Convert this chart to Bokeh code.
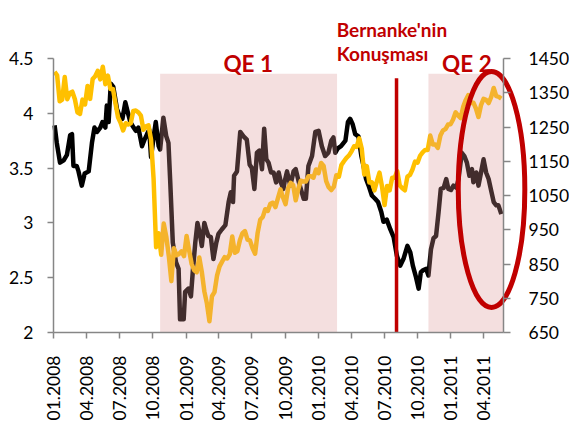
import numpy as np
import pandas as pd
from bokeh.plotting import figure
from bokeh.models import (Range1d, LinearAxis, FixedTicker, DatetimeTickFormatter, Label)
from bokeh.embed import file_html
from bokeh.resources import INLINE

# ---------------- data ----------------
# US 10y yield (left axis, %)
yield_dates = [
    "2008-01-04", "2008-01-10", "2008-01-19", "2008-01-29", "2008-02-07", "2008-02-16",
    "2008-02-21", "2008-02-25", "2008-03-05", "2008-03-10", "2008-03-19", "2008-03-27",
    "2008-04-07", "2008-04-16", "2008-04-23", "2008-04-30", "2008-05-09", "2008-05-15",
    "2008-05-23", "2008-05-27", "2008-06-01", "2008-06-07", "2008-06-14", "2008-06-24",
    "2008-07-03", "2008-07-09", "2008-07-17", "2008-07-23", "2008-07-31", "2008-08-09",
    "2008-08-15", "2008-08-22", "2008-09-01", "2008-09-08", "2008-09-15", "2008-09-21",
    "2008-09-26", "2008-10-03", "2008-10-09", "2008-10-17", "2008-10-21", "2008-10-30",
    "2008-11-07", "2008-11-13", "2008-11-18", "2008-11-25", "2008-12-04", "2008-12-11",
    "2008-12-15", "2008-12-25", "2008-12-29", "2009-01-07", "2009-01-14", "2009-01-19",
    "2009-01-26", "2009-02-01", "2009-02-07", "2009-02-13", "2009-02-20", "2009-02-25",
    "2009-03-03", "2009-03-10", "2009-03-17", "2009-03-25", "2009-03-31", "2009-04-09",
    "2009-04-19", "2009-04-28", "2009-05-04", "2009-05-10", "2009-05-13", "2009-05-21",
    "2009-05-30", "2009-06-08", "2009-06-17", "2009-06-25", "2009-07-01", "2009-07-08",
    "2009-07-15", "2009-07-22", "2009-07-29", "2009-08-04", "2009-08-10", "2009-08-16",
    "2009-08-23", "2009-08-30", "2009-09-06", "2009-09-13", "2009-09-19", "2009-09-26",
    "2009-09-29", "2009-10-06", "2009-10-15", "2009-10-24", "2009-10-30", "2009-11-07",
    "2009-11-21", "2009-11-27", "2009-12-04", "2009-12-14", "2009-12-23", "2010-01-01",
    "2010-01-10", "2010-01-19", "2010-01-28", "2010-02-05", "2010-02-11", "2010-02-16",
    "2010-02-23", "2010-03-04", "2010-03-16", "2010-03-23", "2010-03-29", "2010-04-05",
    "2010-04-12", "2010-04-21", "2010-04-29", "2010-05-05", "2010-05-12", "2010-05-19",
    "2010-05-28", "2010-06-06", "2010-06-14", "2010-06-23", "2010-06-29", "2010-07-08",
    "2010-07-18", "2010-07-27", "2010-08-05", "2010-08-14", "2010-08-23", "2010-09-03",
    "2010-09-11", "2010-09-18", "2010-09-27", "2010-10-04", "2010-10-10", "2010-10-17",
    "2010-10-25", "2010-10-31", "2010-11-07", "2010-11-14", "2010-11-21", "2010-11-28",
    "2010-12-04", "2010-12-12", "2010-12-19", "2010-12-25", "2011-01-01", "2011-01-08",
    "2011-01-16", "2011-01-22", "2011-01-31", "2011-02-07", "2011-02-14", "2011-02-21",
    "2011-02-28", "2011-03-04", "2011-03-12", "2011-03-18", "2011-03-25", "2011-04-01",
    "2011-04-08", "2011-04-15", "2011-04-21", "2011-04-29", "2011-05-06", "2011-05-12",
    "2011-05-20",
]
yield_values = [
    3.89, 3.73, 3.55, 3.57, 3.62, 3.80,
    3.81, 3.52, 3.52, 3.47, 3.34, 3.45,
    3.47, 3.73, 3.87, 3.83, 3.87, 3.92,
    3.87, 4.07, 3.92, 4.27, 4.24, 4.04,
    3.96, 3.95, 4.10, 4.02, 3.92, 3.87,
    3.84, 3.87, 3.70, 3.76, 3.81, 3.85,
    3.60, 3.78, 3.92, 3.70, 3.67, 3.96,
    3.79, 3.73, 3.37, 2.82, 2.64, 2.58,
    2.12, 2.12, 2.37, 2.40, 2.33, 2.55,
    2.82, 3.00, 2.91, 2.79, 3.00, 2.94,
    2.88, 2.87, 2.67, 2.82, 2.90, 2.94,
    2.98, 3.19, 3.28, 3.19, 3.43, 3.47,
    3.83, 3.79, 3.76, 3.53, 3.50, 3.31,
    3.64, 3.66, 3.49, 3.86, 3.58, 3.55,
    3.46, 3.46, 3.37, 3.46, 3.37, 3.31,
    3.37, 3.47, 3.34, 3.47, 3.49, 3.38,
    3.22, 3.22, 3.52, 3.61, 3.83, 3.84,
    3.70, 3.61, 3.64, 3.75, 3.78, 3.64,
    3.68, 3.70, 3.75, 3.92, 3.95, 3.90,
    3.81, 3.79, 3.61, 3.52, 3.40, 3.34,
    3.25, 3.22, 3.19, 3.10, 3.01, 3.03,
    2.94, 2.87, 2.70, 2.61, 2.67, 2.79,
    2.73, 2.61, 2.50, 2.40, 2.55, 2.57,
    2.58, 2.52, 2.76, 2.86, 2.88, 3.10,
    3.31, 3.32, 3.40, 3.31, 3.30, 3.34,
    3.32, 3.40, 3.64, 3.61, 3.55, 3.43,
    3.49, 3.37, 3.46, 3.34, 3.46, 3.58,
    3.46, 3.40, 3.31, 3.19, 3.16, 3.16,
    3.08,
]

# S&P 500 weekly close (right axis), weekly Fridays from 2008-01-04
spx_start = "2008-01-04"
spx_values = [
    # 2008
    1411, 1401, 1325, 1330, 1396, 1331, 1349, 1353, 1331, 1293, 1288, 1330, 1316,
    1370, 1332, 1390, 1398, 1414, 1389, 1426, 1375, 1400, 1361, 1361, 1318, 1278,
    1262, 1240, 1261, 1257, 1261, 1297, 1298, 1293, 1283, 1242, 1252, 1255, 1213,
    1099, 899, 940, 877, 968, 930, 873, 800, 896, 876, 879, 887, 873,
    # 2009
    932, 890, 850, 832, 826, 869, 827, 770, 735, 683, 756, 768, 816,
    843, 857, 870, 866, 878, 930, 883, 887, 919, 940, 946, 921, 918,
    896, 880, 941, 979, 987, 1010, 1005, 1026, 1029, 1016, 1042, 1068, 1044,
    1025, 1071, 1087, 1080, 1036, 1069, 1093, 1091, 1091, 1106, 1106, 1102, 1126, 1115,
    # 2010
    1145, 1136, 1092, 1074, 1066, 1075, 1109, 1105, 1139, 1150, 1160, 1167,
    1179, 1194, 1192, 1217, 1187, 1111, 1136, 1088, 1089, 1065, 1092, 1117, 1076,
    1022, 1078, 1065, 1102, 1102, 1121, 1079, 1071, 1065, 1105, 1110, 1126, 1149,
    1146, 1166, 1176, 1183, 1183, 1225, 1199, 1199, 1189, 1225, 1240, 1244, 1257, 1258,
    # 2011
    1272, 1293, 1283, 1276, 1310, 1329, 1343, 1320, 1321, 1304, 1279, 1314,
    1332, 1329, 1320, 1337, 1364, 1340, 1338, 1333,
]

# x-axis ticks and labels
x_tick_dates = ["2008-01-01", "2008-04-01", "2008-07-01", "2008-10-01",
                "2009-01-01", "2009-04-01", "2009-07-01", "2009-10-01",
                "2010-01-01", "2010-04-01", "2010-07-01", "2010-10-01",
                "2011-01-01", "2011-04-01"]
left_ticks = [2, 2.5, 3, 3.5, 4, 4.5]
left_tick_labels = ["2", "2.5", "3", "3.5", "4", "4.5"]
right_ticks = [650, 750, 850, 950, 1050, 1150, 1250, 1350, 1450]

# QE periods
qe_starts = ["2008-10-21", "2010-10-31"]
qe_ends = ["2010-02-21", "2011-05-26"]
qe_names = ["QE 1", "QE 2"]
qe_label_dates = ["2009-06-21", "2011-02-14"]
speech_date = "2010-08-04"
speech_text = ["Bernanke'nin", "Konuşması"]

x_start, x_end = "2008-01-01", "2011-05-26"
y_min, y_max = 2, 4.5
s_min, s_max = 650, 1450

# ---------------- layout ----------------
W, H = 569, 430
AXIS_L, AXIS_R, AXIS_T, AXIS_B = 53, 503, 58, 332   # pixel positions of the axes


def ms(d):
    return pd.Timestamp(d).value / 1e6


x0, x1 = ms(x_start), ms(x_end)
xs = (x1 - x0) / (AXIS_R - AXIS_L)            # ms per pixel
x_lo, x_hi = x0 - xs * AXIS_L, x1 + xs * (W - AXIS_R)
ys = (y_max - y_min) / (AXIS_B - AXIS_T)
y_lo, y_hi = y_min - ys * (H - AXIS_B), y_max + ys * AXIS_T
ss = (s_max - s_min) / (AXIS_B - AXIS_T)
s_lo, s_hi = s_min - ss * (H - AXIS_B), s_max + ss * AXIS_T

RED = "#c00000"
FONT = "Lato"
AX = "#868686"

p = figure(width=W, height=H, x_axis_type="datetime",
           x_range=Range1d(x_lo, x_hi), y_range=Range1d(y_lo, y_hi),
           output_backend="svg", toolbar_location=None, min_border=0)
p.outline_line_color = None
p.xgrid.visible = False
p.ygrid.visible = False
p.background_fill_color = "white"
p.border_fill_color = "white"
p.extra_y_ranges = {"spx": Range1d(s_lo, s_hi)}

# left axis
ya = p.yaxis[0]
ya.ticker = FixedTicker(ticks=left_ticks)
ya.major_label_overrides = {t: l for t, l in zip(left_ticks, left_tick_labels)}
ya.fixed_location = x0
ya.bounds = (y_min, y_max)
ya.major_tick_out = 6
ya.major_label_standoff = 14

# right axis, placed at the end of the date range
ra = LinearAxis(y_range_name="spx", ticker=FixedTicker(ticks=right_ticks),
                fixed_location=x1, bounds=(s_min, s_max))
ra.major_tick_out = 7
ra.major_label_standoff = 18
p.add_layout(ra, "right")

# bottom axis
xa = p.xaxis[0]
xa.ticker = FixedTicker(ticks=[ms(d) for d in x_tick_dates])
xa.formatter = DatetimeTickFormatter(days="%m.%Y", months="%m.%Y", years="%m.%Y")
xa.major_label_orientation = np.pi / 2
xa.fixed_location = y_min
xa.bounds = (x0, x1)
xa.major_tick_out = 6
xa.major_label_standoff = 17

for ax in (ya, ra, xa):
    ax.minor_tick_line_color = None
    ax.major_tick_in = 0
    ax.axis_line_color = AX
    ax.axis_line_width = 1.5
    ax.major_tick_line_color = AX
    ax.major_tick_line_width = 1.5
    ax.major_label_text_font = FONT
    ax.major_label_text_font_size = "17.5px"
    ax.major_label_text_color = "black"

# ---------------- series ----------------
ydates = pd.to_datetime(yield_dates)
p.line(ydates, yield_values, line_color="black", line_width=4.5, line_join="round")

sdates = pd.date_range(spx_start, periods=len(spx_values), freq="W-FRI")
p.line(sdates, spx_values, y_range_name="spx", line_color="#ffc000", line_width=4.5,
       line_join="round")

# QE shading (overlay on top of the lines)
p.quad(left=pd.to_datetime(qe_starts), right=pd.to_datetime(qe_ends), bottom=y_min, top=4.36,
       fill_color="#d99694", fill_alpha=0.3, line_color=None)

# Bernanke speech line
p.segment(x0=[pd.Timestamp(speech_date)], y0=[y_min], x1=[pd.Timestamp(speech_date)],
          y1=[4.32], line_color=RED, line_width=3.5)

# ellipse around the end of QE2
cx, cy = ms("2011-04-23"), 3.305
p.ellipse(x=[cx], y=[cy], width=[2 * 91.8 * 86400000], height=[2 * 1.076],
          fill_alpha=0, line_color=RED, line_width=5)

# labels
for name, d in zip(qe_names, qe_label_dates):
    p.add_layout(Label(x=ms(d), y=4.454, text=name, text_align="center",
                       text_baseline="alphabetic", text_font=FONT, text_font_style="bold",
                       text_font_size="22.5px", text_color=RED))
for yv, line in zip([4.768, 4.546], speech_text):
    p.add_layout(Label(x=ms("2010-02-20"), y=yv, text=line, text_align="left",
                       text_baseline="alphabetic", text_font=FONT, text_font_style="bold",
                       text_font_size="19px", text_color=RED))

open("out.html", "w").write(file_html(p, INLINE))
